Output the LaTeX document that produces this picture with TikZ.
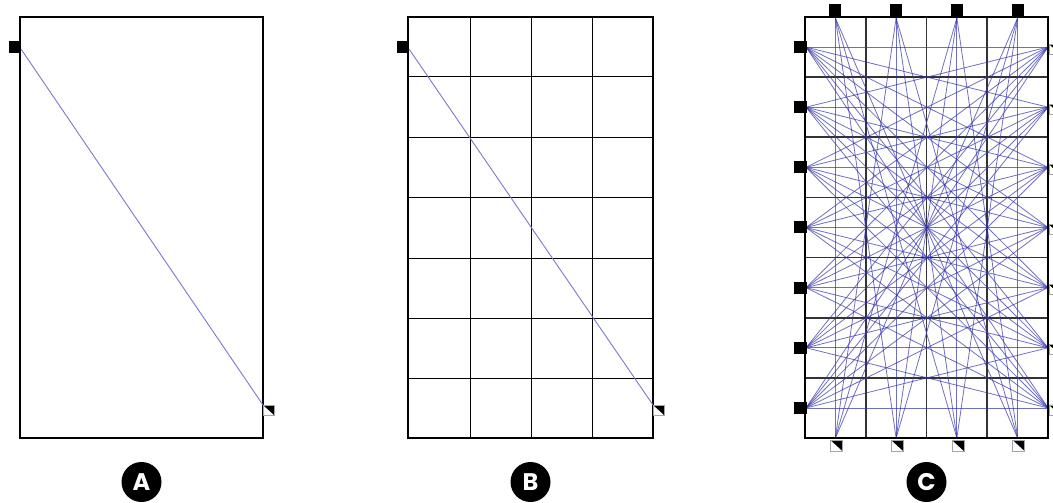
\documentclass[tikz,border=0pt]{standalone}
\usepackage{fontspec}
\usetikzlibrary{calc}
\newfontfamily\labfont{Poppins}
\begin{document}
\begin{tikzpicture}[x=1pt,y=-1pt,
  frame/.style={line width=2.6pt,black},
  gridB/.style={line width=1.0pt,black},
  gridC/.style={line width=1.8pt,black!80},
  wireAB/.style={line width=0.9pt,color={rgb,255:red,120;green,120;blue,205}},
  wireC/.style={line width=0.8pt,color={rgb,255:red,50;green,50;blue,170},opacity=0.7},
  srcbox/.style={fill=black},
  sinkedge/.style={line width=0.6pt,black!35},
  badge/.style={circle,fill=black,minimum size=40pt,inner sep=0pt,text=white,font=\labfont\bfseries\fontsize{24}{24}\selectfont}
]
\useasboundingbox (0,0) rectangle (1053,503);

% ---------- Panel A ----------
\draw[frame] (20,17) rectangle (263,438);
\coordinate (aS) at (21,49);
\coordinate (aT) at (263,405);
\fill[srcbox] (9,41) rectangle (21,53);
\draw[wireAB] (aS) -- (aT);
\fill[black] (263,405) -- (274,405) -- (274,415) -- cycle;
\draw[sinkedge] (263,405) rectangle (274,415);

% ---------- Panel B ----------
\foreach \x in {470,531,592} \draw[gridB] (\x,17) -- (\x,438);
\foreach \y in {77,137,197,258,318,378} \draw[gridB] (408,\y) -- (653,\y);
\draw[frame] (408,17) rectangle (653,438);
\coordinate (bS) at (409,49);
\coordinate (bT) at (653,405);
\fill[srcbox] (397,41) rectangle (409,53);
\draw[wireAB] (bS) -- (bT);
\fill[black] (653,405) -- (664,405) -- (664,415) -- cycle;
\draw[sinkedge] (653,405) rectangle (664,415);

% ---------- Panel C ----------
\foreach \x in {865.75,926.5,987.25} \draw[gridC] (\x,17) -- (\x,438);
\foreach \i in {1,...,6} \draw[gridC] (805,{17+60.14*\i}) -- (1048,{17+60.14*\i});
% sources and sinks
\foreach \j in {1,...,4} {
  \coordinate (cT\j) at ({805+60.75*(\j-0.5)},18);
  \coordinate (cB\j) at ({805+60.75*(\j-0.5)},438);
}
\foreach \i in {1,...,7} {
  \coordinate (cL\i) at (806,{17+60.14*(\i-0.5)});
  \coordinate (cR\i) at (1048,{17+60.14*(\i-0.5)});
}
% wires: left sources to right sinks, top sources to bottom sinks
\foreach \s in {1,...,7} {
  \foreach \t in {1,...,7} {
    \draw[wireC] (cL\s) -- (cR\t);
  }
}
\foreach \s in {1,...,4} {
  \foreach \t in {1,...,4} {
    \draw[wireC] (cT\s) -- (cB\t);
  }
}
\draw[frame] (805,17) rectangle (1048,438);
% markers
\foreach \j in {1,...,4} {
  \fill[srcbox] ($(cT\j)+(-6,-14)$) rectangle ($(cT\j)+(6,-1)$);
  \fill[black] ($(cB\j)+(-5,2)$) -- ($(cB\j)+(7,2)$) -- ($(cB\j)+(7,13)$) -- cycle;
  \draw[sinkedge] ($(cB\j)+(-5,2)$) rectangle ($(cB\j)+(7,13)$);
}
\foreach \i in {1,...,7} {
  \fill[srcbox] ($(cL\i)+(-12,-6)$) rectangle ($(cL\i)+(1,6)$);
  \fill[black] ($(cR\i)+(1,-3)$) -- ($(cR\i)+(12,-3)$) -- ($(cR\i)+(12,7)$) -- cycle;
  \draw[sinkedge] ($(cR\i)+(1,-3)$) rectangle ($(cR\i)+(12,7)$);
}

% ---------- Badges ----------
\node[badge] (labA) at (141.5,482) {A};
\node[badge] (labB) at (530.5,482) {B};
\node[badge] (labC) at (926.5,482) {C};
\end{tikzpicture}
\end{document}
